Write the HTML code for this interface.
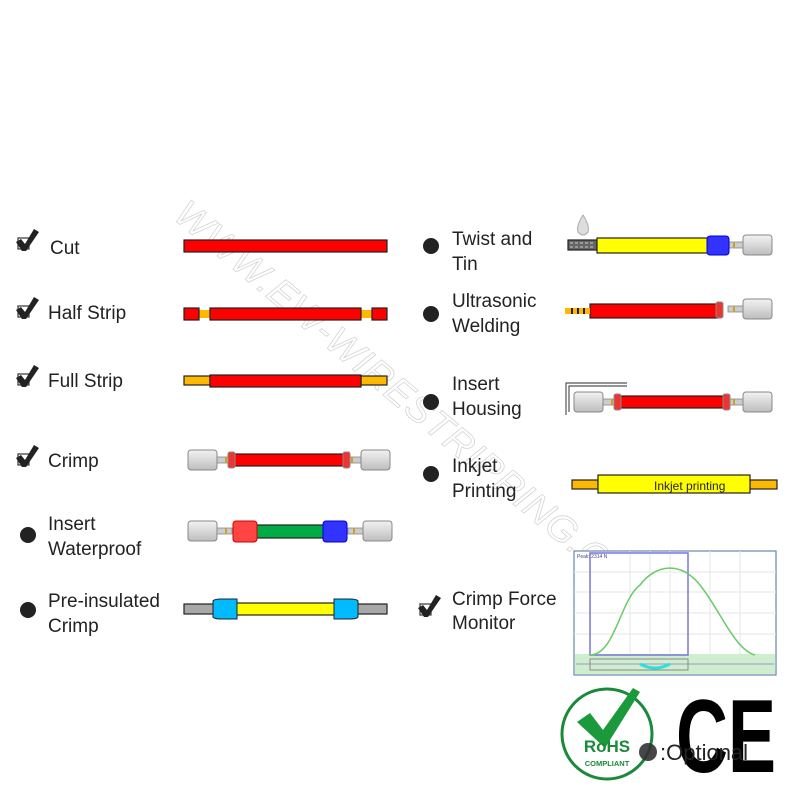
<!DOCTYPE html>
<html><head><meta charset="utf-8"><style>
html,body{margin:0;padding:0;background:#fff;}
svg{display:block;}
text{font-family:"Liberation Sans","DejaVu Sans",sans-serif;}
</style></head><body>
<svg width="800" height="800" viewBox="0 0 800 800" xmlns="http://www.w3.org/2000/svg">
<defs>
<g id="chk">
<rect x="0" y="4" width="11" height="11" fill="none" stroke="#333" stroke-width="1.2"/>
<path d="M-2 8 L3 5 L7 10 L16 -5 L21 -2 L8 17 L4 17 Z" fill="#222"/>
</g>
<linearGradient id="tg" x1="0" y1="0" x2="0" y2="1"><stop offset="0" stop-color="#f2f2f2"/><stop offset="0.5" stop-color="#d8d8d8"/><stop offset="1" stop-color="#bdbdbd"/></linearGradient>
<g id="termR">
<rect x="0" y="-3" width="16" height="6" fill="#ccc" stroke="#888" stroke-width="0.8"/>
<rect x="5" y="-3" width="2" height="6" fill="#c9a227"/>
<rect x="15" y="-10" width="29" height="20" rx="3" fill="url(#tg)" stroke="#888" stroke-width="1"/>
</g>
</defs>

<!-- watermark -->
<text x="0" y="0" transform="translate(172,218) rotate(40)" font-size="38" fill="none" stroke="#d4d4d4" stroke-width="0.8" font-style="italic" letter-spacing="1">WWW.EW-WIRESTRIPPING.COM</text>

<!-- left labels -->
<g font-size="19" fill="#222">
<use href="#chk" x="18" y="234"/><text x="50" y="254">Cut</text>
<use href="#chk" x="18" y="302"/><text x="48" y="319">Half Strip</text>
<use href="#chk" x="18" y="370"/><text x="48" y="387">Full Strip</text>
<use href="#chk" x="18" y="450"/><text x="48" y="467">Crimp</text>
<circle cx="28" cy="535" r="8" fill="#222"/><text x="48" y="530">Insert</text><text x="48" y="555">Waterproof</text>
<circle cx="28" cy="610" r="8" fill="#222"/><text x="48" y="607">Pre-insulated</text><text x="48" y="632">Crimp</text>
<!-- right labels -->
<circle cx="431" cy="246" r="8" fill="#222"/><text x="452" y="245">Twist and</text><text x="452" y="270">Tin</text>
<circle cx="431" cy="314" r="8" fill="#222"/><text x="452" y="307">Ultrasonic</text><text x="452" y="332">Welding</text>
<circle cx="431" cy="402" r="8" fill="#222"/><text x="452" y="390">Insert</text><text x="452" y="415">Housing</text>
<circle cx="431" cy="474" r="8" fill="#222"/><text x="452" y="472">Inkjet</text><text x="452" y="497">Printing</text>
<use href="#chk" x="420" y="600"/><text x="452" y="605">Crimp Force</text><text x="452" y="629">Monitor</text>
</g>

<g stroke="#222" stroke-width="1.2">
<rect x="184" y="240" width="203" height="12" fill="#f00"/>
<rect x="199" y="310" width="11" height="8" fill="#fcb900" stroke="none"/>
<rect x="361" y="310" width="11" height="8" fill="#fcb900" stroke="none"/>
<rect x="184" y="308" width="15" height="12" fill="#f00"/>
<rect x="210" y="308" width="151" height="12" fill="#f00"/>
<rect x="372" y="308" width="15" height="12" fill="#f00"/>
<rect x="184" y="376" width="26" height="9" fill="#fcb900"/>
<rect x="361" y="376" width="26" height="9" fill="#fcb900"/>
<rect x="210" y="375" width="151" height="12" fill="#f00"/>
<rect x="232" y="454" width="114" height="12" fill="#f00"/>
<rect x="255" y="525" width="70" height="13" fill="#0a4"/>
<rect x="184" y="604" width="30" height="10" fill="#a8a8a8"/>
<rect x="356" y="604" width="31" height="10" fill="#a8a8a8"/>
<rect x="236" y="603" width="100" height="12" fill="#ff0"/>
<rect x="568" y="240" width="29" height="10" fill="#666"/>
<rect x="597" y="238" width="112" height="15" fill="#ff0"/>
<rect x="590" y="304" width="128" height="14" fill="#f00"/>
<rect x="618" y="396" width="107" height="12" fill="#f00"/>
<rect x="572" y="480" width="26" height="9" fill="#fcb900"/>
<rect x="750" y="480" width="27" height="9" fill="#fcb900"/>
<rect x="598" y="475" width="152" height="18" fill="#ff0"/>
</g>
<text x="654" y="490" font-size="12" fill="#222">Inkjet printing</text>

<path d="M213 601 Q214 599 222 599 L237 599 L237 619 L222 619 Q214 619 213 617 Z" fill="#0bf" stroke="#222"/>
<path d="M358 601 Q357 599 349 599 L334 599 L334 619 L349 619 Q357 619 358 617 Z" fill="#0bf" stroke="#222"/>

<rect x="565" y="308" width="25" height="6" fill="#fcb900"/>
<g fill="#222"><rect x="571" y="308" width="2" height="6"/><rect x="577" y="308" width="2" height="6"/><rect x="583" y="308" width="2" height="6"/></g>
<path d="M570 243 L594 243 M570 247 L594 247" stroke="#ccc" stroke-dasharray="3 2"/>
<path d="M583 215 Q590 226 588 232 Q583 238 578 232 Q576 226 583 215Z" fill="#ddd" stroke="#aaa"/>

<g transform="translate(346,460)"><use href="#termR"/></g>
<g transform="translate(232,460) scale(-1,1)"><use href="#termR"/></g>
<rect x="228" y="452" width="7" height="16" rx="2" fill="#e33" stroke="#888"/>
<rect x="343" y="452" width="7" height="16" rx="2" fill="#e33" stroke="#888"/>

<g transform="translate(348,531)"><use href="#termR"/></g>
<g transform="translate(232,531) scale(-1,1)"><use href="#termR"/></g>
<rect x="233" y="521" width="24" height="21" rx="3" fill="#f44" stroke="#c00"/>
<rect x="323" y="521" width="24" height="21" rx="3" fill="#33f" stroke="#00c"/>

<g transform="translate(728,245)"><use href="#termR"/></g>
<rect x="707" y="236" width="22" height="19" rx="3" fill="#33f" stroke="#00c"/>
<g transform="translate(728,309)"><use href="#termR"/></g>
<rect x="716" y="302" width="7" height="16" rx="2" fill="#e33" stroke="#888"/>
<g transform="translate(728,402)"><use href="#termR"/></g>
<g transform="translate(618,402) scale(-1,1)"><use href="#termR"/></g>
<rect x="614" y="394" width="7" height="16" rx="2" fill="#e33" stroke="#888"/>
<rect x="723" y="394" width="7" height="16" rx="2" fill="#e33" stroke="#888"/>
<path d="M566 415 L566 383 L627 383 M569 412 L569 386 L627 386" fill="none" stroke="#555" stroke-width="1.2"/>

<rect x="574" y="551" width="202" height="124" fill="#fff" stroke="#6688aa" stroke-width="1.2"/>
<g stroke="#e6e6e6"><path d="M574 572H776M574 592H776M574 613H776M574 634H776M630 551V655M650 551V655M670 551V655M710 551V655M740 551V655"/></g>
<rect x="575" y="654" width="200" height="20" fill="#cfeecf"/>
<path d="M576 664H774" stroke="#99b"/>
<path d="M640 664 Q655 672 670 664" stroke="#3dd" stroke-width="3" fill="none"/>
<rect x="590" y="659" width="98" height="11" fill="none" stroke="#888"/>
<rect x="590" y="553" width="98" height="102" fill="none" stroke="#77d" stroke-width="1.5"/>
<path d="M590 655 C615 655 620 600 640 585 C655 565 680 560 700 585 C720 610 735 650 755 655" stroke="#6c6" stroke-width="1.5" fill="none"/>
<text x="577" y="558" font-size="5" fill="#448">Peak: 2314 N</text>

<circle cx="607" cy="734" r="45" fill="#fff" stroke="#1a8a3a" stroke-width="3"/>
<path d="M577 722 L590 713 L603 730 L633 688 L640 692 L605 748 Z" fill="#1a9a3a"/>
<text x="607" y="752" font-size="17" font-weight="bold" fill="#1a8a3a" text-anchor="middle">RoHS</text>
<text x="607" y="766" font-size="7.5" font-weight="bold" fill="#1a8a3a" text-anchor="middle">COMPLIANT</text>

<text x="676" y="772" font-size="104" font-weight="bold" fill="#000" textLength="100" lengthAdjust="spacingAndGlyphs">CE</text>

<circle cx="648" cy="752" r="9" fill="#333" opacity="0.9"/>
<text x="660" y="760" font-size="22" fill="#222">:Optional</text>
</svg>
</body></html>
